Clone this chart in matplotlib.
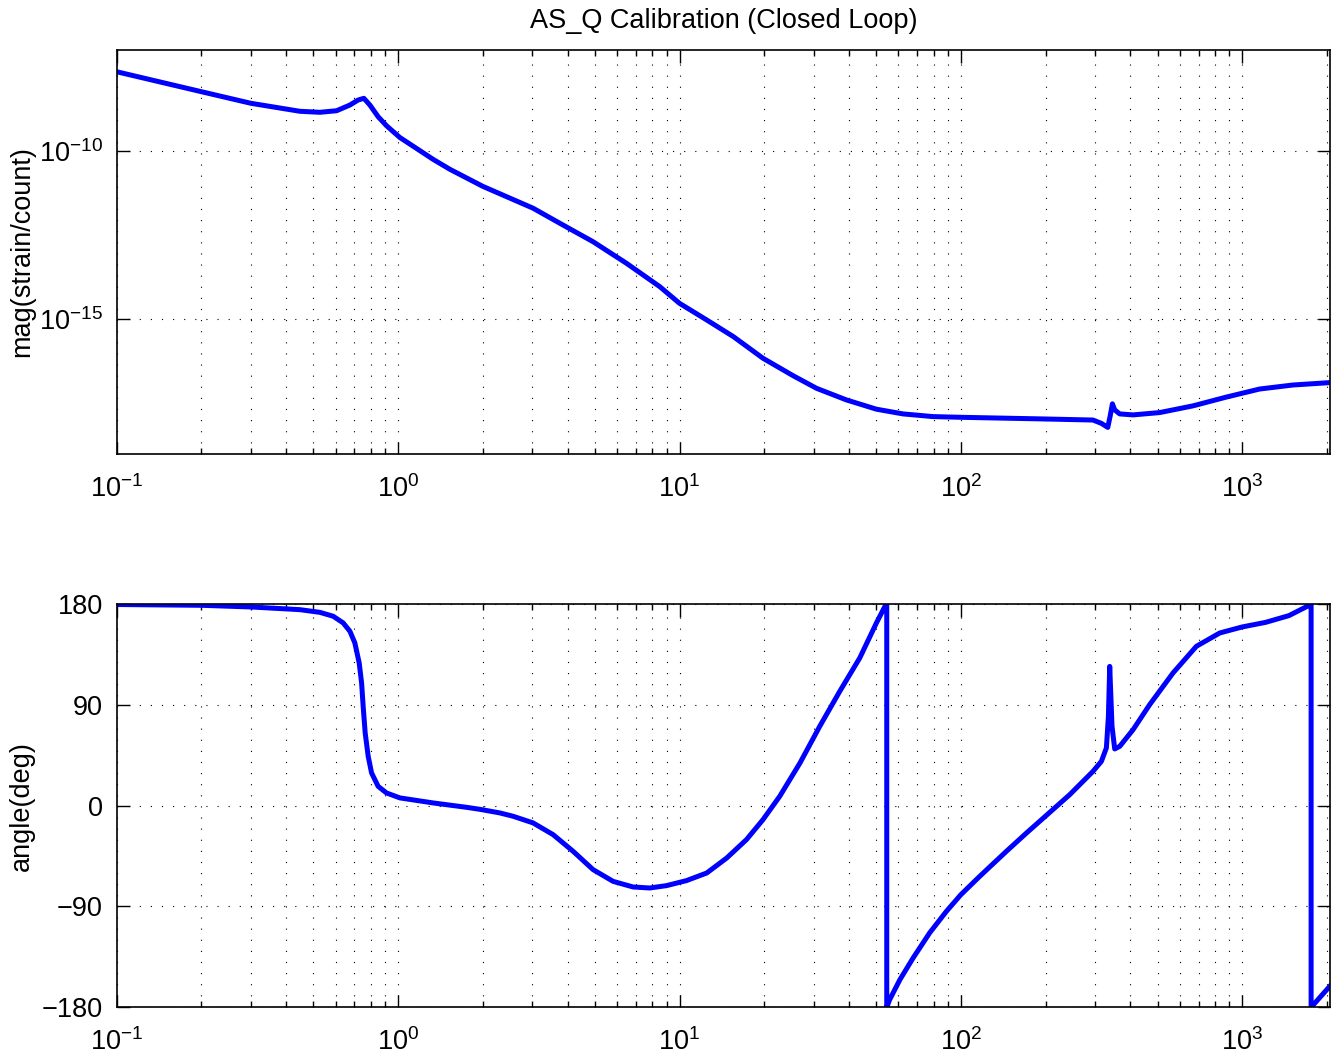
import numpy as np
import matplotlib
matplotlib.use("Agg")
import matplotlib.pyplot as plt
from matplotlib.ticker import LogLocator, FixedLocator, NullLocator, LogFormatterMathtext

plt.rcParams['font.family'] = ['Liberation Sans', 'DejaVu Sans']
plt.rcParams['mathtext.fontset'] = 'custom'
plt.rcParams['mathtext.rm'] = 'Liberation Sans'
plt.rcParams['mathtext.it'] = 'Liberation Sans:italic'
plt.rcParams['mathtext.bf'] = 'Liberation Sans:bold'

# magnitude response (Hz, strain/count)
mag_freq = [0.1, 0.2, 0.3, 0.448, 0.5275, 0.6049, 0.6744, 0.7216, 0.756, 0.7939,
            0.8497, 0.91, 1.015, 1.18, 1.333, 1.528, 2.0, 3.017, 3.757, 4.93,
            6.48, 8.51, 10, 12.5, 15.55, 19.8, 25.4, 30.7, 39.2, 50.1, 62.3, 79.6,
            100, 195.7, 294.6, 315.5, 332.5, 338.7, 345.3, 351.9, 366.6, 409,
            508.5, 667.8, 877, 1152, 1513, 2048]
mag_vals = [2.26e-8, 5.77e-9, 2.61e-9, 1.51e-9, 1.41e-9, 1.57e-9, 2.32e-9, 3.27e-9,
            3.67e-9, 2.32e-9, 1.04e-9, 5.62e-10, 2.51e-10, 1.10e-10, 5.62e-11,
            2.86e-11, 8.91e-12, 2.0e-12, 7.13e-13, 2.02e-13, 4.62e-14, 9.33e-15,
            2.99e-15, 9.55e-16, 3.05e-16, 6.97e-17, 2.09e-17, 8.91e-18, 4.03e-18,
            2.14e-18, 1.55e-18, 1.29e-18, 1.23e-18, 1.10e-18, 1.02e-18, 8.13e-19,
            6.17e-19, 1.29e-18, 3.09e-18, 2.04e-18, 1.55e-18, 1.45e-18, 1.70e-18,
            2.69e-18, 4.90e-18, 8.51e-18, 1.12e-17, 1.32e-17]

# phase response (Hz, degrees), wraps at +/-180
ph_freq = [0.1, 0.2, 0.3, 0.448, 0.5275, 0.5884, 0.638, 0.6744, 0.7022, 0.7275,
           0.742, 0.7516, 0.7641, 0.7831, 0.805, 0.8497, 0.91, 1.015, 1.333,
           1.751, 1.953, 2.299, 2.564, 3.017, 3.556, 4.19, 4.93, 5.81, 6.84, 7.84,
           8.99, 10.59, 12.5, 14.72, 17.3, 19.8, 22.7, 26.8, 31.5, 37.1, 43.7,
           50.1, 54.1, 54.5, 54.5, 55.8, 60.7, 67.6, 77.4, 88.8, 100, 116.6, 145,
           171, 199.5, 243.5, 294.6, 315.5, 328.7, 334.2, 337.8, 344.2, 351.9,
           366.6, 409, 468.6, 567, 686.4, 831, 1000, 1211, 1464, 1701, 1755, 1755,
           2048]
ph_vals = [179.5, 178.8, 177.3, 174.9, 172.5, 169, 163.1, 155.6, 145.2, 127.4,
           109.5, 88.6, 64.9, 44, 29.2, 17.2, 11.3, 6.9, 2.4, -1.5, -3.3, -6.5,
           -9.5, -15.4, -25.9, -40.8, -57.1, -67.6, -72.6, -73.5, -71.4, -66.9,
           -60.1, -46.7, -30.3, -12.5, 8.3, 38.1, 70.8, 102, 131.8, 163.1, 179.4,
           180, -180, -173.2, -155.3, -136, -113.6, -94.3, -79.4, -63.1, -40.8,
           -24.4, -9.5, 9.8, 30.6, 39.5, 51.5, 79.7, 124.3, 70.8, 50.6, 52.9,
           67.8, 90.2, 118.4, 142.2, 154.1, 159.5, 163.6, 169.6, 177.9, 180,
           -180, -161]

fs = 19.5
fig = plt.figure(figsize=(13.36, 10.59), dpi=100)
ax1 = fig.add_axes([0.0873, 0.5713, 0.9082, 0.3815])
ax2 = fig.add_axes([0.0873, 0.0488, 0.9082, 0.3809])

ax1.loglog(mag_freq, mag_vals, color=(0, 0, 1), lw=3.6, solid_joinstyle='round')
ax2.semilogx(ph_freq, ph_vals, color=(0, 0, 1), lw=3.6, solid_joinstyle='round')

for ax in (ax1, ax2):
    ax.set_xlim(0.1, 2048)
    ax.xaxis.set_major_locator(LogLocator(base=10, numticks=10))
    ax.xaxis.set_minor_locator(LogLocator(base=10, subs=np.arange(2, 10), numticks=20))
    ax.xaxis.set_major_formatter(LogFormatterMathtext())
    ax.tick_params(which='both', direction='in', top=True, right=True,
                   labelsize=fs, width=1)
    ax.tick_params(which='major', length=9, pad=10)
    ax.tick_params(axis='x', which='major', pad=15)
    ax.tick_params(which='minor', length=4.5)
    ax.grid(True, which='major', axis='both', color='k', lw=0.8,
            linestyle=(0, (1, 9)))
    ax.grid(True, which='minor', axis='x', color='k', lw=0.8,
            linestyle=(0, (1, 9)))
    for s in ax.spines.values():
        s.set_linewidth(1.2)

ax1.set_ylim(1e-19, 1e-7)
ax1.yaxis.set_major_locator(FixedLocator([1e-15, 1e-10]))
ax1.yaxis.set_minor_locator(NullLocator())
ax1.yaxis.set_major_formatter(LogFormatterMathtext())
ax1.set_ylabel('mag(strain/count)', fontsize=fs)
ax1.set_title('AS_Q Calibration (Closed Loop)', fontsize=fs, pad=16)

ax2.set_ylim(-180, 180)
ax2.set_yticks([-180, -90, 0, 90, 180])
ax2.set_yticklabels(['\u2212180', '\u221290', '0', '90', '180'])
ax2.set_ylabel('angle(deg)', fontsize=fs)

ax1.yaxis.set_label_coords(-0.067, 0.5)
ax2.yaxis.set_label_coords(-0.067, 0.5)

fig.savefig('out.png', dpi=100)
